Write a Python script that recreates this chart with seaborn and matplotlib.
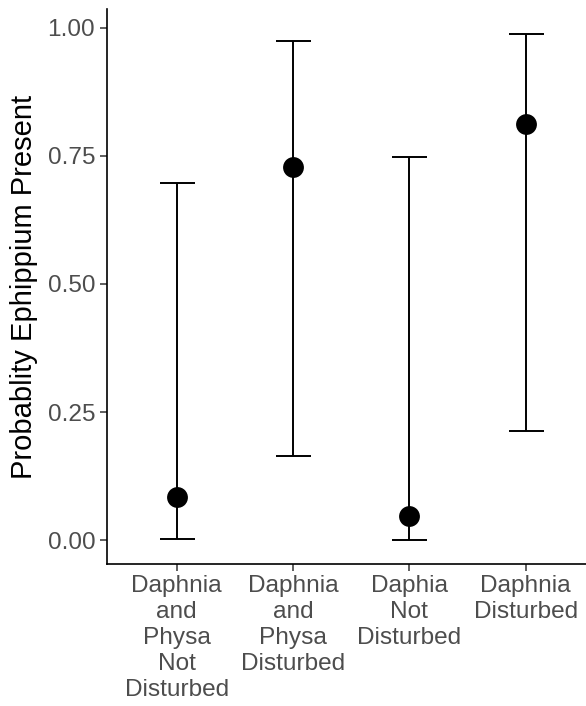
import matplotlib
matplotlib.use("Agg")
import matplotlib.pyplot as plt
import seaborn as sns
import pandas as pd
import numpy as np

# Treatment groups and model estimates with 95% intervals
groups = [
    "Daphnia\nand\nPhysa\nNot\nDisturbed",
    "Daphnia\nand\nPhysa\nDisturbed",
    "Daphia\nNot\nDisturbed",
    "Daphnia\nDisturbed",
]
prob = [0.084, 0.728, 0.048, 0.812]
lower = [0.0025, 0.1645, 0.0005, 0.214]
upper = [0.697, 0.975, 0.748, 0.987]
y_ticks = [0.00, 0.25, 0.50, 0.75, 1.00]
y_tick_labels = ["0.00", "0.25", "0.50", "0.75", "1.00"]

df = pd.DataFrame({"group": groups, "prob": prob, "lower": lower, "upper": upper})

sns.set_theme(style="ticks")
plt.rcParams["font.family"] = ["Liberation Sans", "DejaVu Sans"]

fig = plt.figure(figsize=(5.86, 7.06), dpi=100)
ax = fig.add_axes([0.1826, 0.2007, 0.8334, 0.7861])

pos = np.arange(len(groups))
yerr = np.vstack([df["prob"] - df["lower"], df["upper"] - df["prob"]])
ax.errorbar(pos, df["prob"], yerr=yerr, fmt="none", ecolor="black",
            elinewidth=1.4, capsize=12.6, capthick=1.4, zorder=2)

sns.stripplot(data=df, x="group", y="prob", jitter=False, color="black",
              size=15, linewidth=0, ax=ax, zorder=3)

ax.set_xlim(-0.6, len(groups) - 0.4)
ax.set_ylim(-0.047, 1.036)
ax.set_yticks(y_ticks)
ax.set_yticklabels(y_tick_labels)

ax.set_xlabel("")
ax.set_ylabel("Probablity Ephippium Present", fontsize=21, color="black", labelpad=7)

for side in ["top", "right"]:
    ax.spines[side].set_visible(False)
for side in ["left", "bottom"]:
    ax.spines[side].set_color("black")
    ax.spines[side].set_linewidth(1.2)

ax.tick_params(axis="both", which="major", length=5, width=1.1, color="#333333",
               labelsize=17.6, labelcolor="#4D4D4D", pad=3.5)
ax.tick_params(axis="x", pad=2.5)
for lab in ax.get_xticklabels():
    lab.set_horizontalalignment("center")
    lab.set_linespacing(1.24)

fig.savefig("out.png", dpi=100)
